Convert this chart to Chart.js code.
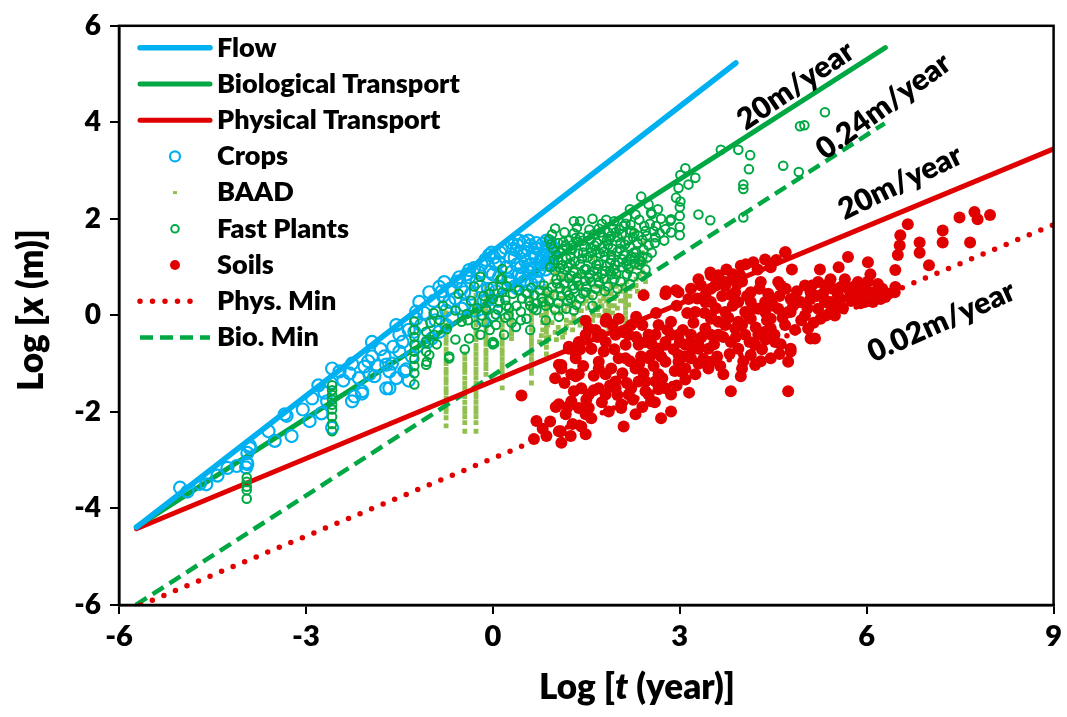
<!DOCTYPE html>
<html>
<head>
<meta charset="utf-8">
<script src="https://cdn.jsdelivr.net/npm/chart.js@4.4.0/dist/chart.umd.min.js"></script>
<style>
    html, body { margin: 0; padding: 0; background: #fff; }
    #marco { width: 1067px; height: 717px; }
</style>
</head>
<body>
<div id="marco"><canvas id="grafico" width="1067" height="717"></canvas></div>
<script>
// ticks
const xTicks = [-6, -3, 0, 3, 6, 9];
const yTicks = [-6, -4, -2, 0, 2, 4, 6];

// line end points [log t, log x]
const flowLine = [[-5.72, -4.39], [3.9, 5.23]];
const bioLine = [[-5.72, -4.38], [6.3, 5.55]];
const physLine = [[-5.72, -4.42], [9, 3.45]];
const physMin = [[-5.65, -6], [9, 1.88]];
const bioMin = [[-5.73, -6], [6.29, 3.98]];

// Crops
const crops = [
    [-5.02, -3.57], [-4.70, -3.49], [-4.42, -3.32], [-4.26, -3.16], [-4.11, -3.12], [-3.95, -3.05],
    [-3.94, -2.85], [-3.9, -2.7], [-3.96, -3.15], [-3.9, -2.75], [-3.94, -3.08], [-3.34, -2.05],
    [-3.31, -2.08], [-3.23, -2.5], [-2.94, -2.19], [-2.75, -2.03], [-2.9, -1.72], [-2.58, -1.10],
    [-2.58, -2.33], [-2.66, -1.78], [-2.6, -1.4], [-2.46, -1.16], [-2.22, -1.68], [-2.06, -1.06],
    [-1.9, -1.26], [-1.74, -0.85], [-1.66, -1.16], [-1.5, -0.75], [-1.42, -1.16], [-1.26, -0.34],
    [-1.22, -0.65], [-1.18, 0.28], [-1.02, 0.48], [-0.86, 0.59], [-0.78, 0.69], [-0.86, -0.34],
    [-0.7, 0.28], [-0.54, 0.79], [-0.38, 0.79], [-0.46, 0.48], [-0.3, 0.98], [-0.22, 0.89],
    [-0.06, 1.25], [0.02, 1.2], [0.1, 1.1], [-2.26, -1.78], [-2.1, -1.62], [-1.66, -1.51],
    [-1.98, -1.22], [-1.71, -1.02], [-1.94, -0.55], [-1.55, -0.2], [-1.23, 0.08], [-0.82, 0.5],
    [-0.38, 0.94], [-0.02, 1.3], [-1.71, -1.51], [-2.1, -1.57], [-2.26, -1.0], [-1.94, -0.85],
    [-1.62, -1.0], [-1.39, -1.12], [-1.5, -0.4], [-1.23, -0.07], [-0.98, -0.48], [-0.75, -0.2],
    [-0.5, 0.14], [0.3, 1.5], [0.4, 1.45], [0.5, 1.52], [0.6, 1.45], [0.7, 1.5], [0.8, 1.48],
    [0.9, 1.45], [0.35, 1.2], [0.5, 1.25], [0.65, 1.3], [0.8, 1.25], [0.3, 0.9], [0.45, 1.0],
    [0.6, 1.05], [0.75, 1.1], [0.9, 1.2], [0.35, 0.6], [0.5, 0.7], [0.7, 0.8], [0.85, 0.95],
    [-0.2, 0.6], [-0.1, 0.3], [0.0, 0.0], [-0.15, -0.1], [0.05, 0.5], [0.1, 0.8], [-0.05, 0.9],
    [-1.45, -0.55], [-1.35, -0.3], [-1.3, -0.85], [-1.15, -0.2], [-1.1, 0.05], [-1.05, -0.55],
    [-0.95, 0.3], [-0.92, -0.1], [-0.9, 0.05], [-0.8, 0.4], [-0.75, 0.1], [-0.68, 0.55], [-0.65, -0.05],
    [-0.6, 0.35], [-0.58, 0.7], [-0.5, 0.55], [-0.45, 0.2], [-0.42, 0.85], [-0.35, 0.45], [-0.3, 0.1],
    [-0.26, 0.7], [-0.18, 1.05], [-0.15, 0.3], [-0.12, 1.15], [-0.08, 0.55], [0.0, 0.85], [0.05, 1.05],
    [0.08, 0.3], [0.12, 1.3], [0.15, 0.6], [0.2, 1.4], [0.22, 1.0], [0.25, 0.75], [0.28, 1.2],
    [0.38, 1.35], [0.42, 0.85], [0.55, 1.38], [0.58, 0.9], [0.62, 1.2], [0.72, 1.38], [0.75, 0.95],
    [0.85, 1.35], [0.88, 1.1], [0.95, 1.3], [0.4, 0.55], [0.55, 0.5],
    [0.33, 1.38], [0.45, 1.3], [0.52, 1.12], [0.68, 1.4], [0.78, 1.2], [0.92, 1.52], [0.83, 1.05],
    [0.66, 0.95], [0.47, 0.82], [0.38, 1.05], [0.62, 0.65], [0.73, 0.68], [0.95, 1.05], [0.28, 0.7],
    [0.57, 1.55], [0.86, 1.55], [0.42, 1.55], [0.97, 1.4], [0.68, 1.2], [0.55, 0.95],
    [-2.4, -1.35], [-2.3, -1.2], [-2.15, -1.3], [-2.0, -0.95], [-1.85, -1.05], [-1.8, -0.7],
    [-1.6, -0.65], [-1.55, -1.3], [-1.35, -1.35], [-3.05, -1.95], [-2.8, -1.45], [-2.7, -1.6],
    [-3.6, -2.4], [-3.5, -2.6], [-4.6, -3.5], [-4.9, -3.65]
];

// BAAD, vertical runs of points at one log t
const baadColX = [-0.75, -0.45, -0.27, -0.11, 0.15, 0.3, 0.62, 0.86, 1.86, 2.13];
const baadColY = [
    [0.05, -0.08, -0.2, -0.27, -0.41, -0.5, -0.58, -0.7, -0.79, -0.92, -1.0, -1.12, -1.2, -1.31, -1.4, -1.52, -1.6, -1.71, -1.8, -1.93, -2.0, -2.12, -2.29],
    [-0.8, -0.9, -1.01, -1.1, -1.18, -1.3, -1.41, -1.5, -1.6, -1.69, -1.8, -1.92, -2.0, -2.1, -2.22, -2.4],
    [0.42, 0.3, 0.2, 0.11, 0.0, -0.1, -0.2, -0.31, -0.4, -0.5, -0.62, -0.7, -0.8, -0.9, -1.0, -1.11, -1.2, -1.3, -1.41, -1.5, -1.6, -1.7, -1.8, -1.91, -2.0, -2.1, -2.22, -2.4],
    [0.6, 0.5, 0.41, 0.3, 0.2, 0.1, 0.0, -0.12, -0.2, -0.3, -0.42, -0.5, -0.6, -0.72, -0.8, -0.9, -1.0, -1.1, -1.22],
    [-0.1, -0.2, -0.3, -0.42, -0.5, -0.6, -0.71, -0.8, -0.9, -1.0, -1.1, -1.2, -1.3, -1.5],
    [0.13, 0.02, -0.1, -0.2, -0.3, -0.38, -0.48],
    [0.5, 0.4, 0.3, 0.2, 0.1, 0.0, -0.1, -0.2, -0.3, -0.41, -0.5, -0.6, -0.7, -0.8, -0.9, -1.0, -1.1, -1.2, -1.4],
    [0.45, 0.35, 0.24, 0.15, 0.05, -0.06, -0.15, -0.26, -0.35, -0.46, -0.55, -0.66, -0.8],
    [0.34, 0.22, 0.1, 0.0, -0.12, -0.27],
    [0.44, 0.35, 0.25, 0.15, 0.05, -0.05, -0.15, -0.28]
];
const baadOtros = [
    [0.75, -0.55], [0.8, -0.3], [0.78, 0.0], [0.82, 0.3], [0.85, 0.6], [0.9, -0.45], [0.95, -0.15],
    [0.93, 0.2], [1.0, 0.5], [1.02, -0.5], [1.05, -0.25], [1.08, 0.05], [1.1, 0.35], [1.15, -0.35],
    [1.18, -0.1], [1.2, 0.2], [1.22, 0.55], [1.28, -0.3], [1.3, 0.0], [1.33, 0.3], [1.35, 0.65],
    [1.4, -0.2], [1.42, 0.1], [1.45, 0.4], [1.5, -0.15], [1.52, 0.15], [1.55, 0.5], [1.6, -0.1],
    [1.62, 0.25], [1.65, 0.6], [1.7, 0.0], [1.72, 0.3], [1.75, 0.75], [1.8, 0.1], [1.82, 0.45],
    [1.88, 0.2], [1.9, 0.6], [1.95, 0.35], [2.0, 0.15], [2.02, 0.8], [2.05, 0.5], [2.1, 0.3],
    [2.15, 0.7], [2.2, 0.55], [2.25, 1.0], [2.3, 0.75], [2.35, 1.2], [2.4, 0.9], [2.42, 1.5],
    [2.28, 1.75], [2.1, 1.6], [1.9, 1.3], [1.6, 1.2], [1.3, 1.0], [1.0, 0.9],
    [0.78, -0.42], [0.88, -0.2], [0.98, 0.05], [1.12, -0.45], [1.25, -0.15], [1.36, 0.12], [1.47, -0.05],
    [1.58, 0.38], [1.68, 0.12], [1.78, 0.55], [1.92, 0.05], [2.08, 0.62], [2.18, 0.22], [2.32, 0.5],
    [2.45, 0.7], [2.38, 1.05], [2.2, 0.9], [1.98, 0.6], [1.85, 0.85], [1.7, 0.45], [1.55, 0.7],
    [1.4, 0.55], [1.25, 0.4], [1.1, 0.6], [0.95, 0.4], [0.85, 0.05], [1.0, -0.35], [1.15, 0.1],
    [1.3, -0.1], [1.45, 0.25], [1.6, 0.05], [1.75, 0.2], [1.9, 0.45], [2.05, 0.3], [2.2, 0.4], [2.35, 0.85],
    [0.8, -0.15], [0.9, 0.15], [1.05, 0.2], [1.18, -0.22], [1.3, 0.22], [1.5, 0.3], [1.62, 0.0],
    [1.72, 0.6], [1.82, 0.3], [1.95, 0.2], [2.0, 0.45], [2.12, 0.55], [2.25, 0.6], [2.3, 0.62],
    [2.42, 0.5], [2.45, 1.1], [2.4, 1.3], [2.3, 1.0], [2.15, 0.95], [2.0, 1.0], [1.85, 0.7],
    [1.7, 0.8], [1.55, 0.95], [1.4, 0.85], [1.25, 0.75], [1.1, 0.8], [0.95, 0.7], [0.82, 0.45],
    [0.75, 0.2], [1.38, -0.1], [1.52, -0.05], [1.65, 0.2], [1.78, 0.35]
];

// Fast Plants
const fastPlants = [
    [-3.95, -3.36], [-3.95, -3.45], [-3.95, -3.55], [-3.95, -3.62], [-3.95, -3.8],
    [-2.58, -1.45], [-2.58, -1.55], [-2.58, -1.65], [-2.58, -1.75], [-2.58, -1.85], [-2.58, -1.95],
    [-2.58, -2.1], [-2.58, -2.25], [-2.58, -2.4],
    [-1.26, -0.13], [-1.26, -0.3], [-1.26, -0.45], [-1.26, -0.6], [-1.26, -0.75], [-1.26, -0.9],
    [-1.26, -1.05], [-1.26, -1.2], [-1.26, -1.43], [-1.07, -0.34], [-1.07, -0.55], [-1.07, -0.75],
    [-1.07, -1.02], [-0.94, -0.4], [-1.02, -0.82], [-1.06, -0.96], [-0.7, -0.89], [-0.74, -0.28],
    [-0.5, -0.13], [-0.38, -0.48], [-0.27, -0.2], [-0.11, 0.14], [0.0, 0.34], [0.15, 0.48],
    [0.15, 0.96], [0.15, 0.75], [0.0, -0.55], [0.18, -0.4], [-0.42, 0.03], [-0.18, 0.0], [0.05, 0.02],
    [-0.7, -0.85], [0.02, -0.58], [0.37, -0.24], [0.54, -0.07], [1.06, -0.03], [1.18, 0.14],
    [1.34, 0.22], [1.49, 0.48], [0.7, 0.11], [1.22, 0.42], [2.21, 1.16], [1.9, 0.85], [0.0, -0.6],
    [-0.2, 0.8], [-0.15, 0.4], [-0.1, 0.1], [0.0, 0.6], [0.05, -0.2], [0.1, 0.3], [0.12, 0.75],
    [-0.05, -0.3], [0.25, 0.0], [0.3, -0.15],
    [-0.9, -0.6], [-0.85, -0.1], [-0.8, 0.2], [-0.6, -0.5], [-0.6, 0.1], [-0.55, 0.45], [-0.4, -0.1],
    [-0.35, 0.3], [-0.3, 0.6], [-0.2, -0.4], [-0.25, 0.15], [-0.1, -0.15], [-0.05, 0.45], [0.08, 0.12],
    [0.2, -0.05], [0.22, 0.2], [-0.45, -0.7], [-1.0, -0.15], [-0.95, 0.05],
    [0.2, 0.32], [0.22, 0.61], [0.38, 0.2], [0.42, 0.52], [0.58, 0.3], [0.62, 0.57],
    [0.78, 0.36], [0.82, 0.62], [0.98, 0.42], [1.03, 0.66],
    [1.0, 0.92], [1.05, 1.14], [0.97, 1.38], [1.18, 0.5], [1.22, 0.77], [1.2, 1.0], [1.25, 1.22],
    [1.17, 1.45], [1.38, 0.62], [1.42, 0.86], [1.4, 1.06], [1.45, 1.3], [1.37, 1.52], [1.58, 0.7],
    [1.62, 0.92], [1.6, 1.16], [1.65, 1.36], [1.57, 1.57], [1.78, 0.76], [1.82, 1.02], [1.8, 1.22],
    [1.85, 1.46], [1.77, 1.62], [1.98, 0.86], [2.02, 1.1], [2.0, 1.32], [2.05, 1.5], [1.97, 1.72],
    [2.18, 0.97], [2.22, 1.22], [2.2, 1.42], [2.25, 1.62], [2.38, 1.12], [2.42, 1.36], [2.4, 1.56],
    [2.45, 1.75], [0.9, 1.58], [1.3, 1.7], [1.7, 1.8], [2.1, 1.85],
    [0.32, 0.45], [0.47, 0.35], [0.67, 0.42],
    [0.88, 0.5], [0.92, 1.0], [0.93, 1.47], [1.08, 0.56], [1.1, 0.8],
    [1.12, 1.05], [1.07, 1.3], [1.13, 1.52], [1.28, 0.62], [1.3, 0.9], [1.32, 1.12], [1.27, 1.36],
    [1.33, 1.6], [1.48, 0.72], [1.5, 0.96], [1.52, 1.2], [1.47, 1.43], [1.53, 1.65], [1.68, 0.8],
    [1.7, 1.06], [1.72, 1.28], [1.67, 1.5], [1.73, 1.72], [1.88, 0.92], [1.9, 1.15], [1.92, 1.38],
    [1.87, 1.58], [1.93, 1.8], [2.08, 1.0], [2.1, 1.25], [2.12, 1.47], [2.07, 1.68], [2.13, 1.9],
    [2.28, 1.08], [2.3, 1.3], [2.32, 1.5], [2.27, 1.7], [2.48, 1.2], [2.5, 1.45], [2.47, 1.65],
    [2.52, 1.9], [0.26, 0.15], [0.45, 0.08], [0.65, 0.15], [0.85, 0.2], [1.05, 0.25], [1.25, 0.35],
    [1.45, 0.45], [1.65, 0.55], [1.85, 0.6], [2.05, 0.7], [2.25, 0.8], [2.45, 0.95],
    [0.95, 1.68], [1.15, 1.72], [1.35, 1.82], [1.55, 1.78], [1.75, 1.9], [1.95, 1.95],
    [2.15, 2.02], [2.35, 1.98], [1.6, 2.0], [1.3, 1.95], [2.55, 2.1], [2.62, 1.85], [2.6, 1.5],
    [2.68, 1.7], [2.7, 2.0], [2.75, 1.55],
    [1.02, 0.75], [1.15, 0.95], [1.24, 1.08], [1.35, 0.78], [1.43, 1.18], [1.55, 0.85], [1.58, 1.3],
    [1.66, 1.05], [1.75, 1.4], [1.8, 0.92], [1.9, 1.25], [1.96, 1.05], [2.04, 1.38], [2.15, 1.12],
    [2.17, 1.55], [2.26, 1.3], [2.34, 1.65], [2.4, 1.22], [1.12, 1.38], [1.22, 1.55], [1.4, 1.62],
    [1.62, 1.68], [1.85, 1.72], [2.0, 1.62], [1.05, 1.5], [0.98, 1.15], [1.3, 0.55], [1.5, 0.6],
    [1.7, 0.68], [1.95, 0.75], [2.15, 0.85], [2.35, 1.05], [1.1, 0.4], [0.9, 0.3], [0.7, 0.25],
    [0.55, 0.45], [0.75, 0.52], [0.95, 0.58], [1.15, 0.66], [1.35, 0.7], [1.55, 0.78], [1.75, 0.86],
    [1.95, 0.95], [2.15, 1.05], [2.35, 1.15], [0.6, 0.2], [0.8, 0.28], [1.0, 0.12], [1.2, 0.3],
    [1.4, 0.35], [1.6, 0.42], [1.8, 0.5], [2.0, 0.55], [2.2, 0.65], [2.4, 0.82], [1.02, 1.25],
    [1.18, 1.18], [1.28, 1.46], [1.45, 1.55], [1.63, 1.45], [1.83, 1.55], [2.03, 1.78], [2.22, 1.75],
    [2.43, 1.85], [1.9, 1.65], [1.08, 0.98], [1.26, 0.82], [1.47, 0.95], [1.68, 0.96], [1.88, 1.08],
    [2.08, 1.16], [2.28, 1.2], [1.37, 1.28], [1.57, 1.4], [1.78, 1.32], [2.55, 1.3], [2.58, 1.75],
    [2.65, 2.2], [2.5, 2.3], [2.2, 2.2], [1.4, 1.95], [1.0, 1.8], [0.45, -0.1], [0.6, -0.3],
    [0.85, -0.1], [1.3, 0.1], [1.6, 0.2]
];

// Fast Plants, upper sparse points
const fastPlantsAltos = [
    [5.33, 4.21], [4.93, 3.92], [5.0, 3.94], [4.66, 3.1], [4.91, 2.97], [4.02, 2.71], [4.02, 2.62],
    [4.13, 3.32], [4.11, 3.03], [3.94, 3.43], [3.66, 3.43], [3.25, 2.85], [3.14, 2.71], [3.09, 3.05],
    [3.01, 2.91], [2.98, 2.64], [2.94, 2.44], [3.01, 2.36], [2.38, 2.46], [3.3, 2.09], [3.49, 1.97],
    [4.02, 2.03], [2.54, 2.13], [2.86, 1.99], [3.0, 1.83], [3.0, 2.24], [3.0, 2.06], [2.61, 1.62],
    [2.77, 1.79], [2.85, 1.96], [2.86, 1.72], [3.0, 1.66], [2.29, 2.09], [1.82, 1.98], [2.21, 1.88]
];

// Soils
const soils = [
    [0.46, -1.66], [0.7, -2.19], [1.01, -1.9], [1.09, -2.4], [0.66, -2.56], [1.1, -2.64], [0.86, -2.5],
    [1.06, -2.4], [1.22, -0.65], [1.1, -1.03], [1.33, -1.26], [1.33, -0.79], [1.49, -0.11], [1.1, -1.1],
    [1.26, -1.22], [1.06, -1.84], [1.17, -2.05], [1.26, -1.78], [1.42, -1.51], [1.54, -1.92], [1.58, -2.13],
    [1.49, -2.46], [1.33, -0.89], [1.58, -0.69], [1.7, -0.96], [1.81, -1.22], [1.97, -1.51], [1.81, -1.64],
    [2.02, -0.89], [1.97, -0.4], [1.74, -0.4], [1.49, -0.4], [2.13, -0.61], [2.22, -0.2], [2.34, -0.61],
    [2.29, -1.1], [2.34, -1.37], [2.18, -1.64], [1.86, -1.99], [2.06, -1.84], [2.5, -1.64], [2.45, -1.37],
    [2.61, -1.37], [2.5, -0.89], [2.61, -0.4], [2.77, -0.55], [2.66, -0.2], [2.86, -0.13], [2.86, -1.64],
    [2.86, -1.99], [2.98, -0.96], [3.02, -1.16], [3.18, -0.89], [3.25, -1.22], [3.09, -0.61], [3.18, -0.4],
    [3.25, 0.07], [3.14, 0.34], [3.41, 0.42], [3.5, 0.28], [3.57, 0.62], [3.73, 0.69], [3.89, 0.48],
    [3.94, 0.28], [3.5, -0.07], [3.62, -0.4], [3.73, -0.2], [3.82, -0.55], [3.89, -0.27], [4.05, -0.4],
    [4.14, -0.07], [3.94, -0.69], [4.14, -0.82], [4.21, -0.61], [4.37, -0.34], [4.46, -0.07], [4.58, 0.14],
    [4.46, 0.34], [4.74, 0.07], [4.78, 0.34], [4.94, 0.28], [5.01, 0.62], [5.1, 0.48], [5.22, 0.69],
    [5.33, 0.62], [5.42, 0.75], [5.54, 0.55], [5.58, 0.34], [5.38, 0.28], [5.42, 0.07], [5.26, -0.07],
    [5.49, 0.0], [5.74, 0.42], [5.86, 0.69], [5.97, 0.28], [6.06, 0.48], [6.22, 0.34], [6.3, 0.38],
    [6.06, 0.85], [6.18, 0.65], [5.65, 0.75], [5.06, -0.27], [5.17, -0.48], [4.78, -0.75], [4.74, -0.96],
    [4.74, -1.57], [4.21, -1.03], [4.46, -0.89], [3.98, -1.26], [3.82, -1.57], [3.7, -1.22], [3.5, -0.96],
    [3.46, -1.1], [3.09, -1.33], [2.66, -1.53], [2.98, 0.48], [2.77, 0.44], [3.18, 0.55], [3.34, 0.62],
    [3.5, 0.83], [3.98, 1.03], [4.69, 1.31], [4.3, 0.69], [4.62, 0.62], [4.14, 0.48], [4.37, 0.28],
    [4.05, 0.07], [4.26, 0.14], [3.94, -0.13], [3.73, 0.07], [3.41, -0.27], [3.3, -0.61], [3.46, -0.69],
    [2.98, -0.4], [2.77, -0.96], [2.66, -0.69], [2.5, -0.4],
    [1.82, -0.07], [2.3, -0.03], [2.42, 0.42], [2.78, 0.5], [2.94, 0.52], [3.49, 0.89], [3.62, 0.83],
    [3.97, 0.83], [4.06, 1.06], [4.18, 1.1], [4.37, 1.16], [4.46, 1.0], [4.7, 1.31], [5.7, 1.21], [6.02, 1.1],
    [6.66, 1.89], [6.54, 1.66], [6.53, 1.45], [6.5, 1.25], [6.46, 0.94], [6.46, 0.59], [6.45, 0.48],
    [6.85, 1.51], [6.85, 1.3], [7.0, 1.04], [7.22, 1.76], [7.22, 1.51], [7.49, 2.03], [7.73, 2.14],
    [7.78, 1.99], [7.66, 1.51], [7.98, 2.08],
    [1.06, -1.02], [1.22, -0.69], [1.54, -0.27], [1.58, -0.69], [1.81, -0.55], [1.7, -1.1], [1.38, -1.22],
    [1.3, -1.57], [1.54, -1.64], [1.38, -1.92], [1.49, -2.05], [1.7, -1.51], [1.97, -1.37], [2.13, -0.89],
    [2.18, -0.4], [2.29, -0.13], [2.02, -0.07], [1.81, -0.13], [2.45, -0.55], [2.54, -0.82], [2.77, -0.61],
    [2.86, -0.4], [2.98, -0.82], [3.09, -1.1], [2.66, -1.22], [2.77, -1.51], [2.54, -1.78], [2.7, -2.13],
    [2.45, -1.57], [2.22, -1.51], [2.29, -2.05], [2.06, -1.92], [3.18, -0.55], [3.3, -0.69], [3.5, -0.4],
    [3.5, 0.0], [3.62, -0.13], [3.41, 0.28], [3.5, 0.55], [3.73, 0.62], [3.82, 0.42], [4.14, 0.28],
    [4.1, 0.0], [4.37, 0.07], [4.26, -0.4], [4.46, -0.27], [4.69, -0.2], [4.78, 0.07], [4.9, 0.28],
    [5.01, 0.0], [5.1, 0.34], [5.22, 0.14], [5.42, 0.28], [5.54, 0.42], [5.7, 0.55], [5.86, 0.42],
    [5.97, 0.62], [6.1, 0.28], [4.58, 0.69], [4.53, -0.55], [4.78, -0.69], [5.1, -0.48], [5.33, 0.28],
    [1.15, -1.4], [1.2, -1.9], [1.28, -2.25], [1.38, -0.55], [1.45, -1.05], [1.5, -1.75], [1.62, -1.25],
    [1.65, -0.3], [1.75, -1.8], [1.78, -0.75], [1.9, -1.1], [1.92, -0.2], [2.0, -1.65], [2.08, -1.2],
    [2.1, -0.35], [2.2, -0.95], [2.25, -1.75], [2.38, -0.85], [2.4, -0.2], [2.42, -1.2], [2.55, -0.6],
    [2.58, -1.05], [2.62, 0.05], [2.7, -0.85], [2.72, -1.3], [2.8, -0.3], [2.9, -0.7], [2.92, -1.15],
    [2.95, 0.2], [3.05, -0.3], [3.08, -0.85], [3.12, 0.05], [3.2, -0.7], [3.22, -0.15], [3.28, 0.35],
    [3.35, -0.45], [3.38, -0.9], [3.4, 0.05], [3.55, -0.6], [3.58, 0.15], [3.6, -0.85], [3.68, 0.4],
    [3.7, -0.45], [3.78, -0.05], [3.8, -0.8], [3.85, 0.2], [3.9, -0.45], [3.92, 0.65], [4.0, -0.2],
    [4.02, -0.95], [4.08, 0.4], [4.12, -0.55], [4.2, 0.15], [4.22, -0.25], [4.28, 0.55], [4.32, -0.7],
    [4.4, -0.1], [4.42, 0.45], [4.5, 0.2], [4.52, -0.4], [4.6, 0.4], [4.62, -0.6], [4.65, -0.05],
    [4.7, 0.55], [4.82, 0.2], [4.85, -0.3], [4.88, 0.5], [4.95, -0.1], [5.05, 0.15], [5.12, 0.62],
    [5.15, -0.15], [5.2, 0.4], [5.3, 0.45], [5.35, 0.0], [5.45, 0.55], [5.5, 0.2], [5.6, 0.6],
    [5.62, 0.15], [5.75, 0.3], [5.8, 0.6], [5.9, 0.25], [5.95, 0.5], [6.02, 0.7], [6.12, 0.45],
    [6.25, 0.55], [6.35, 0.45], [1.0, -1.3], [0.92, -2.2], [0.8, -2.35], [1.25, -2.5], [1.42, -2.3],
    [1.62, -1.55], [1.88, -1.45], [2.15, -1.4], [2.35, -1.0], [2.6, -1.8], [2.95, -1.45], [3.3, -1.0],
    [3.65, -1.05], [4.0, -1.1], [4.3, -0.95], [4.6, -0.8], [2.1, -2.3], [2.4, -1.9], [3.15, -1.6],
    [4.38, -0.5], [3.0, -0.55], [2.3, -0.45], [1.95, -0.7], [1.68, -0.45], [1.4, -0.7],
    [3.3, 0.75], [3.75, 0.95], [4.25, 0.95], [4.55, 1.15], [4.0, 0.7], [3.85, 0.85], [4.8, 0.95],
    [5.25, 0.95], [5.55, 1.0]
];

// slope labels
const etiquetas = [
    { texto: "20m/year", x: 4.86, y: 4.76, angulo: -34 },
    { texto: "0.24m/year", x: 6.27, y: 4.33, angulo: -36 },
    { texto: "20m/year", x: 6.54, y: 2.75, angulo: -26 },
    { texto: "0.02m/year", x: 7.2, y: -0.13, angulo: -24 }
];

const ordenLeyenda = ["Flow", "Biological Transport", "Physical Transport", "Crops", "BAAD",
    "Fast Plants", "Soils", "Phys. Min", "Bio. Min"];

const AZUL = "#00B0F0";
const VERDE = "#00A844";
const ROJO = "#E00000";
const OLIVA = "#92C050";
const FUENTE = "Lato, 'Open Sans', sans-serif";
const PESO = "800";

const pares = lista => lista.map(p => ({ x: p[0], y: p[1] }));

let baad = [];
baadColX.forEach((x, i) => {
    baadColY[i].forEach(y => baad.push({ x: x, y: y }));
});
baad = baad.concat(pares(baadOtros));

function linea(label, puntos, color, ancho, dash, cap, orden) {
    return {
        label: label,
        data: pares(puntos),
        showLine: true,
        borderColor: color,
        backgroundColor: color,
        borderWidth: ancho,
        borderDash: dash,
        borderCapStyle: cap,
        pointRadius: 0,
        order: orden,
        tipo: "linea"
    };
}

const marcoPlugin = {
    id: "marco",
    afterDraw(chart) {
        const ctx = chart.ctx;
        const a = chart.chartArea;
        ctx.save();
        ctx.strokeStyle = "#000";
        ctx.lineWidth = 2.5;
        ctx.strokeRect(a.left, a.top, a.right - a.left, a.bottom - a.top);
        ctx.restore();
    }
};

const etiquetasPlugin = {
    id: "etiquetas",
    afterDatasetsDraw(chart) {
        const ctx = chart.ctx;
        const sx = chart.scales.x, sy = chart.scales.y;
        ctx.save();
        ctx.fillStyle = "#000";
        ctx.font = PESO + " 30px " + FUENTE;
        ctx.textAlign = "center";
        ctx.textBaseline = "middle";
        etiquetas.forEach(e => {
            ctx.save();
            ctx.translate(sx.getPixelForValue(e.x), sy.getPixelForValue(e.y));
            ctx.rotate(e.angulo * Math.PI / 180);
            ctx.fillText(e.texto, 0, 0);
            ctx.restore();
        });
        ctx.restore();
    }
};

function textoMixto(ctx, partes, x, y, tam) {
    // partes: [texto, cursiva]
    let total = 0;
    partes.forEach(p => {
        ctx.font = (p[1] ? "italic " : "") + PESO + " " + tam + "px " + FUENTE;
        total += ctx.measureText(p[0]).width;
    });
    let cx = x - total / 2;
    ctx.textAlign = "left";
    ctx.textBaseline = "middle";
    partes.forEach(p => {
        ctx.font = (p[1] ? "italic " : "") + PESO + " " + tam + "px " + FUENTE;
        ctx.fillText(p[0], cx, y);
        cx += ctx.measureText(p[0]).width;
    });
}

const titulosPlugin = {
    id: "titulos",
    afterDraw(chart) {
        const ctx = chart.ctx;
        ctx.save();
        ctx.fillStyle = "#000";
        textoMixto(ctx, [["Log [", false], ["t", true], [" (year)]", false]], 637, 688, 35);
        ctx.translate(32, 310);
        ctx.rotate(-Math.PI / 2);
        textoMixto(ctx, [["Log [", false], ["x", true], [" (m)]", false]], 0, 0, 35);
        ctx.restore();
    }
};

const leyendaPlugin = {
    id: "leyenda",
    afterDraw(chart) {
        const ctx = chart.ctx;
        const a = chart.chartArea;
        ctx.save();
        ordenLeyenda.forEach((label, i) => {
            const ds = chart.data.datasets.find(d => d.label === label);
            const y = a.top + 22 + i * 36.2;
            const x0 = a.left + 21;
            const xm = a.left + 56;
            if (ds.tipo === "linea") {
                ctx.save();
                ctx.strokeStyle = ds.borderColor;
                ctx.lineWidth = ds.borderWidth;
                ctx.lineCap = ds.borderCapStyle;
                ctx.setLineDash(ds.borderDash);
                ctx.beginPath();
                ctx.moveTo(x0, y);
                ctx.lineTo(ds.borderDash.length && ds.borderDash[0] === 0 ? x0 + 58 : x0 + 70, y);
                ctx.stroke();
                ctx.restore();
            } else if (ds.pointStyle === "rect") {
                ctx.fillStyle = ds.backgroundColor;
                ctx.fillRect(xm - 2, y - 1.5, 4, 3);
            } else {
                ctx.beginPath();
                ctx.arc(xm, y, ds.leyendaRadio, 0, Math.PI * 2);
                if (ds.relleno) {
                    ctx.fillStyle = ds.backgroundColor;
                    ctx.fill();
                } else {
                    ctx.strokeStyle = ds.borderColor;
                    ctx.lineWidth = ds.borderWidth;
                    ctx.stroke();
                }
            }
            ctx.fillStyle = "#000";
            ctx.font = PESO + " 27px " + FUENTE;
            ctx.textAlign = "left";
            ctx.textBaseline = "middle";
            ctx.fillText(label, a.left + 98, y);
        });
        ctx.restore();
    }
};

new Chart(document.getElementById("grafico"), {
    type: "scatter",
    data: {
        datasets: [
            {
                label: "Soils", data: pares(soils), pointStyle: "circle", pointRadius: 6,
                backgroundColor: ROJO, borderColor: ROJO, borderWidth: 0, order: 1,
                relleno: true, leyendaRadio: 5
            },
            {
                label: "Fast Plants", data: pares(fastPlants.concat(fastPlantsAltos)),
                pointStyle: "circle", pointRadius: 4.3, backgroundColor: "rgba(0,0,0,0)",
                borderColor: VERDE, borderWidth: 2, order: 2,
                relleno: false, leyendaRadio: 3.8
            },
            {
                label: "Crops", data: pares(crops), pointStyle: "circle", pointRadius: 6,
                backgroundColor: "rgba(0,0,0,0)", borderColor: AZUL, borderWidth: 2.2, order: 3,
                relleno: false, leyendaRadio: 5
            },
            linea("Flow", flowLine, AZUL, 5.5, [], "round", 4),
            linea("Biological Transport", bioLine, VERDE, 5, [], "round", 5),
            linea("Physical Transport", physLine, ROJO, 5, [], "round", 6),
            linea("Phys. Min", physMin, ROJO, 5.5, [0, 12.5], "round", 7),
            linea("Bio. Min", bioMin, VERDE, 4.5, [13, 7], "butt", 8),
            {
                label: "BAAD", data: baad, pointStyle: "rect", pointRadius: 3.4,
                backgroundColor: OLIVA, borderColor: OLIVA, borderWidth: 0, order: 9
            }
        ]
    },
    options: {
        responsive: false,
        animation: false,
        devicePixelRatio: 1,
        layout: { padding: { top: 22, right: 10, left: 0, bottom: 0 } },
        plugins: {
            legend: { display: false },
            tooltip: { enabled: false }
        },
        scales: {
            x: {
                type: "linear",
                min: -6,
                max: 9,
                afterBuildTicks: axis => { axis.ticks = xTicks.map(v => ({ value: v })); },
                afterFit: axis => { axis.height = 112; },
                ticks: {
                    color: "#000",
                    font: { family: FUENTE, size: 29, weight: PESO },
                    padding: 5,
                    maxRotation: 0
                },
                grid: {
                    drawOnChartArea: false,
                    drawTicks: true,
                    tickLength: 9,
                    color: "#000",
                    lineWidth: 2
                },
                border: { display: true, color: "#000", width: 2.5 }
            },
            y: {
                type: "linear",
                min: -6,
                max: 6,
                afterBuildTicks: axis => { axis.ticks = yTicks.map(v => ({ value: v })); },
                afterFit: axis => { axis.width = 119; },
                ticks: {
                    color: "#000",
                    font: { family: FUENTE, size: 28, weight: PESO },
                    padding: 9
                },
                grid: {
                    drawOnChartArea: false,
                    drawTicks: true,
                    tickLength: 9,
                    color: "#000",
                    lineWidth: 2
                },
                border: { display: true, color: "#000", width: 2.5 }
            }
        }
    },
    plugins: [marcoPlugin, etiquetasPlugin, titulosPlugin, leyendaPlugin]
});
</script>
</body>
</html>
